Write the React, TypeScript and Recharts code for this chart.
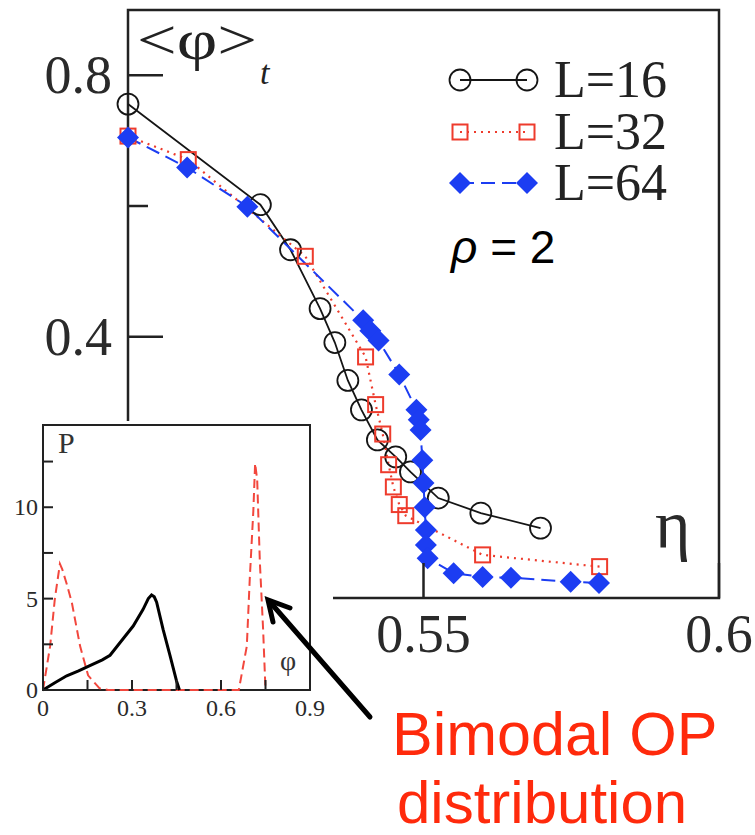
import { LineChart, Line, XAxis, YAxis, ReferenceArea } from "recharts";

// main panel: <phi>_t vs eta
const eta16 = [0.5, 0.5224, 0.5275, 0.5325, 0.535, 0.5372, 0.5395, 0.5422, 0.5453, 0.5478, 0.5525, 0.5597, 0.5698];
const phi16 = [0.756, 0.602, 0.533, 0.443, 0.391, 0.333, 0.288, 0.242, 0.216, 0.193, 0.153, 0.13, 0.107];

const eta32 = [0.5, 0.5102, 0.53, 0.5402, 0.5419, 0.5431, 0.5441, 0.5449, 0.5459, 0.547, 0.56, 0.5798];
const phi32 = [0.707, 0.671, 0.523, 0.369, 0.296, 0.251, 0.204, 0.17, 0.143, 0.126, 0.066, 0.048];

const eta64 = [0.5, 0.51, 0.5202, 0.5398, 0.541, 0.5424, 0.5459, 0.5488, 0.5492, 0.5495, 0.5498, 0.55, 0.5502, 0.5504, 0.5504, 0.5507, 0.5551, 0.56, 0.5648, 0.5749, 0.5797];
const phi64 = [0.705, 0.659, 0.599, 0.425, 0.409, 0.394, 0.342, 0.288, 0.273, 0.257, 0.211, 0.176, 0.139, 0.104, 0.081, 0.061, 0.038, 0.032, 0.031, 0.025, 0.023];

const mainXTicks = [0.55, 0.6];
const mainXLabels = [0.55, 0.6];
const mainYTicks = [0.4, 0.6, 0.8];
const mainYLabels = [0.4, 0.8];

// inset: P(phi)
const phiBlack = [0, 0.04, 0.08, 0.12, 0.158, 0.2, 0.226, 0.26, 0.304, 0.337, 0.355, 0.366, 0.375, 0.383, 0.405, 0.428, 0.45, 0.46];
const pBlack = [0, 0.4, 0.78, 1.05, 1.33, 1.65, 1.9, 2.6, 3.5, 4.4, 5.0, 5.2, 5.1, 4.8, 3.3, 1.9, 0.5, 0];

const phiRed = [0, 0.012, 0.024, 0.04, 0.057, 0.065, 0.08, 0.097, 0.125, 0.152, 0.19, 0.22, 0.66, 0.687, 0.697, 0.709, 0.715, 0.722, 0.731, 0.742, 0.75];
const pRed = [0, 1.2, 2.4, 5.0, 6.9, 6.6, 5.8, 4.8, 2.4, 0.8, 0.1, 0, 0, 2.4, 6.1, 9.8, 12.4, 11.5, 7.0, 3.3, 0];

const insetXTicks = [0, 0.15, 0.3, 0.45, 0.6, 0.75, 0.9];
const insetXLabels = [0, 0.3, 0.6, 0.9];
const insetYTicks = [0, 2.5, 5, 7.5, 10, 12.5];
const insetYLabels = [0, 5, 10];

const rows = (xs: number[], ys: number[]) => xs.map((x, i) => ({ x, y: ys[i] }));

const BLACK = "#151515";
const RED = "#ee3b2c";
const BLUE = "#1c3df2";
const SERIF = "'Liberation Serif', 'Times New Roman', serif";
const SANS = "'Liberation Sans', Arial, sans-serif";

const circleDot = (p: any) => (
  <circle key={`c${p.index}`} cx={p.cx} cy={p.cy} r={10.5} fill="none" stroke={BLACK} strokeWidth={1.8} />
);
const squareDot = (p: any) => (
  <rect key={`s${p.index}`} x={p.cx - 7.5} y={p.cy - 7.5} width={15} height={15} fill="none" stroke={RED} strokeWidth={2} />
);
const diamondDot = (p: any) => (
  <polygon
    key={`d${p.index}`}
    points={`${p.cx},${p.cy - 11} ${p.cx + 11},${p.cy} ${p.cx},${p.cy + 11} ${p.cx - 11},${p.cy}`}
    fill={BLUE}
  />
);

const MainYTick = (props: any) => {
  const { x, y, payload } = props;
  const major = mainYLabels.includes(payload.value);
  return (
    <g>
      <line x1={x} x2={x + (major ? 35 : 20)} y1={y} y2={y} stroke="#222" strokeWidth={2.5} />
      {major && (
        <text x={x - 16} y={y + 18} textAnchor="end" fontFamily={SERIF} fontSize={54} fill="#2a2a2a">
          {payload.value}
        </text>
      )}
    </g>
  );
};

const MainXTick = (props: any) => {
  const { x, y, payload } = props;
  const major = mainXLabels.includes(payload.value);
  return (
    <g>
      <line x1={x} x2={x} y1={y} y2={y - (major ? 35 : 20)} stroke="#222" strokeWidth={2.5} />
      {major && (
        <text x={x} y={y + 54} textAnchor="middle" fontFamily={SERIF} fontSize={54} fill="#2a2a2a">
          {payload.value}
        </text>
      )}
    </g>
  );
};

const InsetYTick = (props: any) => {
  const { x, y, payload } = props;
  return (
    <g>
      <line x1={x} x2={x + 10} y1={y} y2={y} stroke="#222" strokeWidth={2} />
      {insetYLabels.includes(payload.value) && (
        <text x={x - 5} y={y + 8} textAnchor="end" fontFamily={SERIF} fontSize={24} fill="#2a2a2a">
          {payload.value}
        </text>
      )}
    </g>
  );
};

const InsetXTick = (props: any) => {
  const { x, y, payload } = props;
  return (
    <g>
      <line x1={x} x2={x} y1={y} y2={y - 10} stroke="#222" strokeWidth={2} />
      {insetXLabels.includes(payload.value) && (
        <text x={x} y={y + 26} textAnchor="middle" fontFamily={SERIF} fontSize={24} fill="#2a2a2a">
          {payload.value}
        </text>
      )}
    </g>
  );
};

const legendRows = [
  { label: "L=16", y: 80, color: BLACK, dash: undefined, kind: "circle" },
  { label: "L=32", y: 132, color: RED, dash: "2 5", kind: "square" },
  { label: "L=64", y: 183, color: BLUE, dash: "14 7", kind: "diamond" },
];

const marker = (kind: string, cx: number, cy: number) => {
  if (kind === "circle") return circleDot({ cx, cy, index: cx });
  if (kind === "square") return squareDot({ cx, cy, index: cx });
  return diamondDot({ cx, cy, index: cx });
};

export default function App() {
  return (
    <div style={{ position: "absolute", left: 0, top: 0, width: 755, height: 835, background: "#fff", overflow: "hidden" }}>
      <LineChart width={755} height={835} margin={{ top: 10, right: 36, bottom: 177, left: 68 }}>
        <XAxis
          dataKey="x"
          type="number"
          domain={[0.5, 0.6]}
          ticks={mainXTicks}
          height={60}
          axisLine={false}
          tickLine={false}
          tickSize={0}
          tickMargin={0}
          tick={<MainXTick />}
          interval={0}
        />
        <YAxis
          dataKey="y"
          type="number"
          domain={[0, 0.9]}
          ticks={mainYTicks}
          width={60}
          axisLine={false}
          tickLine={false}
          tickSize={0}
          tickMargin={0}
          tick={<MainYTick />}
          interval={0}
        />
        <ReferenceArea x1={0.5} x2={0.6} y1={0} y2={0.9} fill="none" stroke="#222" strokeWidth={2.5} />
        <Line data={rows(eta16, phi16)} dataKey="y" stroke={BLACK} strokeWidth={1.8} dot={circleDot} activeDot={false} isAnimationActive={false} />
        <Line data={rows(eta32, phi32)} dataKey="y" stroke={RED} strokeWidth={2.2} strokeDasharray="2 5" dot={squareDot} activeDot={false} isAnimationActive={false} />
        <Line data={rows(eta64, phi64)} dataKey="y" stroke={BLUE} strokeWidth={2} strokeDasharray="14 7" dot={diamondDot} activeDot={false} isAnimationActive={false} />
      </LineChart>

      <svg width={755} height={835} style={{ position: "absolute", left: 0, top: 0, pointerEvents: "none" }}>
        <text x={137} y={59} fontFamily={SERIF} fontSize={58} fill="#222" textLength={120} lengthAdjust="spacingAndGlyphs">
          {"<φ>"}
        </text>
        <text x={260} y={84} fontFamily={SERIF} fontSize={34} fontStyle="italic" fill="#222">t</text>
        <text x={655} y={548} fontFamily={SERIF} fontSize={68} fill="#2a2a2a">η</text>
        {legendRows.map((r) => (
          <g key={r.label}>
            <line x1={460} x2={527} y1={r.y} y2={r.y} stroke={r.color} strokeWidth={r.kind === "circle" ? 1.8 : 2} strokeDasharray={r.dash} />
            {marker(r.kind, 460, r.y)}
            {marker(r.kind, 527, r.y)}
            <text x={554} y={r.y + 17} fontFamily={SERIF} fontSize={52} fill="#222">{r.label}</text>
          </g>
        ))}
        <text x={451} y={263} fontFamily={SANS} fontSize={46} fill="#000">
          <tspan fontStyle="italic">ρ</tspan>
          <tspan> = 2</tspan>
        </text>
      </svg>

      <div style={{ position: "absolute", left: 0, top: 421, width: 333, height: 320, background: "#fff" }}>
        <LineChart width={333} height={310} margin={{ top: 4, right: 23, bottom: 11, left: 13 }}>
          <XAxis
            dataKey="x"
            type="number"
            domain={[0, 0.9]}
            ticks={insetXTicks}
            height={30}
            axisLine={false}
            tickLine={false}
            tickSize={0}
            tickMargin={0}
            tick={<InsetXTick />}
            interval={0}
          />
          <YAxis
            dataKey="y"
            type="number"
            domain={[0, 14.5]}
            ticks={insetYTicks}
            width={30}
            axisLine={false}
            tickLine={false}
            tickSize={0}
            tickMargin={0}
            tick={<InsetYTick />}
            interval={0}
          />
          <ReferenceArea x1={0} x2={0.9} y1={0} y2={14.5} fill="none" stroke="#222" strokeWidth={2} />
          <Line data={rows(phiRed, pRed)} dataKey="y" stroke="#f2473d" strokeWidth={2} strokeDasharray="9 5" dot={false} activeDot={false} isAnimationActive={false} />
          <Line data={rows(phiBlack, pBlack)} dataKey="y" stroke="#000" strokeWidth={3} dot={false} activeDot={false} isAnimationActive={false} />
        </LineChart>
        <svg width={333} height={320} style={{ position: "absolute", left: 0, top: 0, pointerEvents: "none" }}>
          <text x={58} y={32} fontFamily={SERIF} fontSize={30} fill="#333">P</text>
          <text x={280} y={249} fontFamily={SERIF} fontSize={28} fill="#333">φ</text>
        </svg>
      </div>

      <svg width={755} height={835} style={{ position: "absolute", left: 0, top: 0, pointerEvents: "none" }}>
        <line x1={370} y1={717} x2={270} y2={602} stroke="#000" strokeWidth={5} strokeLinecap="round" />
        <polyline points="273,622 268,600 290,608" fill="none" stroke="#000" strokeWidth={5} strokeLinecap="round" strokeLinejoin="miter" />
        <text x={392} y={755} fontFamily={SANS} fontSize={61} fill="#ff2a0c">Bimodal OP</text>
        <text x={397} y={823} fontFamily={SANS} fontSize={60} fill="#ff2a0c">distribution</text>
      </svg>
    </div>
  );
}
